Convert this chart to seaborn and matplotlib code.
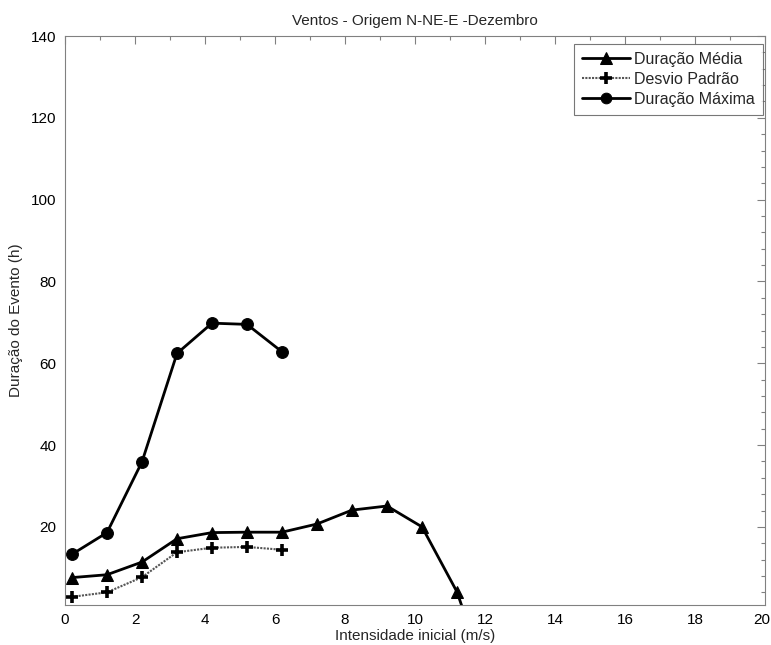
import matplotlib
matplotlib.use("Agg")
import matplotlib.pyplot as plt
import matplotlib.transforms as mtransforms
import seaborn as sns
import pandas as pd
from matplotlib.ticker import MultipleLocator

# Data
x_media = [0.2, 1.2, 2.2, 3.2, 4.2, 5.2, 6.2, 7.2, 8.2, 9.2, 10.2, 11.2, 12.2]
media = [7.6, 8.3, 11.4, 17.1, 18.6, 18.7, 18.7, 20.7, 24.1, 25.1, 20.0, 4.1, -21.0]
x_desvio = [0.2, 1.2, 2.2, 3.2, 4.2, 5.2, 6.2]
desvio = [2.9, 4.0, 7.7, 13.8, 14.9, 15.1, 14.4]
x_max = [0.2, 1.2, 2.2, 3.2, 4.2, 5.2, 6.2]
maxima = [13.3, 18.6, 35.9, 62.4, 69.8, 69.5, 62.8]

labels = ["Duração Média", "Desvio Padrão", "Duração Máxima"]
title = "Ventos - Origem N-NE-E -Dezembro"
xlabel = "Intensidade inicial (m/s)"
ylabel = "Duração do Evento (h)"

sns.set_style("white")
plt.rcParams['font.family'] = ['Liberation Sans', 'DejaVu Sans']

fig = plt.figure(figsize=(7.71, 6.45), dpi=100)
ax = fig.add_axes([65/771, 1-605/645, 700/771, (605-36)/645])

df_m = pd.DataFrame({"x": x_media, "y": media})
df_d = pd.DataFrame({"x": x_desvio, "y": desvio})
df_x = pd.DataFrame({"x": x_max, "y": maxima})

sns.lineplot(data=df_m, x="x", y="y", ax=ax, color="black", lw=2, marker="^",
             markersize=9, markeredgecolor="black", label=labels[0])
sns.lineplot(data=df_d, x="x", y="y", ax=ax, color="#555555", lw=1.5, ls=(0, (1, 0.6)),
             marker="+", markersize=9, markeredgewidth=2.6, markeredgecolor="black",
             label=labels[1])
sns.lineplot(data=df_x, x="x", y="y", ax=ax, color="black", lw=2, marker="o",
             markersize=8.5, markeredgecolor="black", label=labels[2])

ax.set_xlim(0, 20)
ax.set_ylim(0.9, 140)
ax.set_xticks(list(range(0, 21, 2)))
ax.xaxis.set_minor_locator(MultipleLocator(1))
ax.yaxis.set_major_locator(MultipleLocator(20))
ax.yaxis.set_minor_locator(MultipleLocator(4))
ax.tick_params(which="both", direction="in", top=True, right=True,
               color="#808080", labelsize=11, labelcolor="black", pad=6)
ax.tick_params(which="major", length=6, width=0.8)
ax.tick_params(which="minor", length=3, width=0.8)
for s in ax.spines.values():
    s.set_color("#808080")
    s.set_linewidth(0.8)

ax.set_title(title, fontsize=11, pad=8)
ax.set_xlabel(xlabel, fontsize=11, labelpad=1)
ax.set_ylabel(ylabel, fontsize=11, labelpad=6)

leg = ax.legend(loc="upper right", bbox_to_anchor=(0.997, 0.986), frameon=True,
                fancybox=False, fontsize=11.5, handlelength=3.0, borderaxespad=0,
                borderpad=0.5, labelspacing=0.3, handletextpad=0.25,
                markerscale=0.9)
leg.get_frame().set_edgecolor("#555555")
leg.get_frame().set_linewidth(0.8)

last_tick = ax.xaxis.get_major_ticks()[-1]
last_tick.label1.set_horizontalalignment("right")
last_tick.label1.set_transform(last_tick.label1.get_transform()
                               + mtransforms.ScaledTranslation(5/100, 0, fig.dpi_scale_trans))

fig.savefig("out.png", dpi=100)
